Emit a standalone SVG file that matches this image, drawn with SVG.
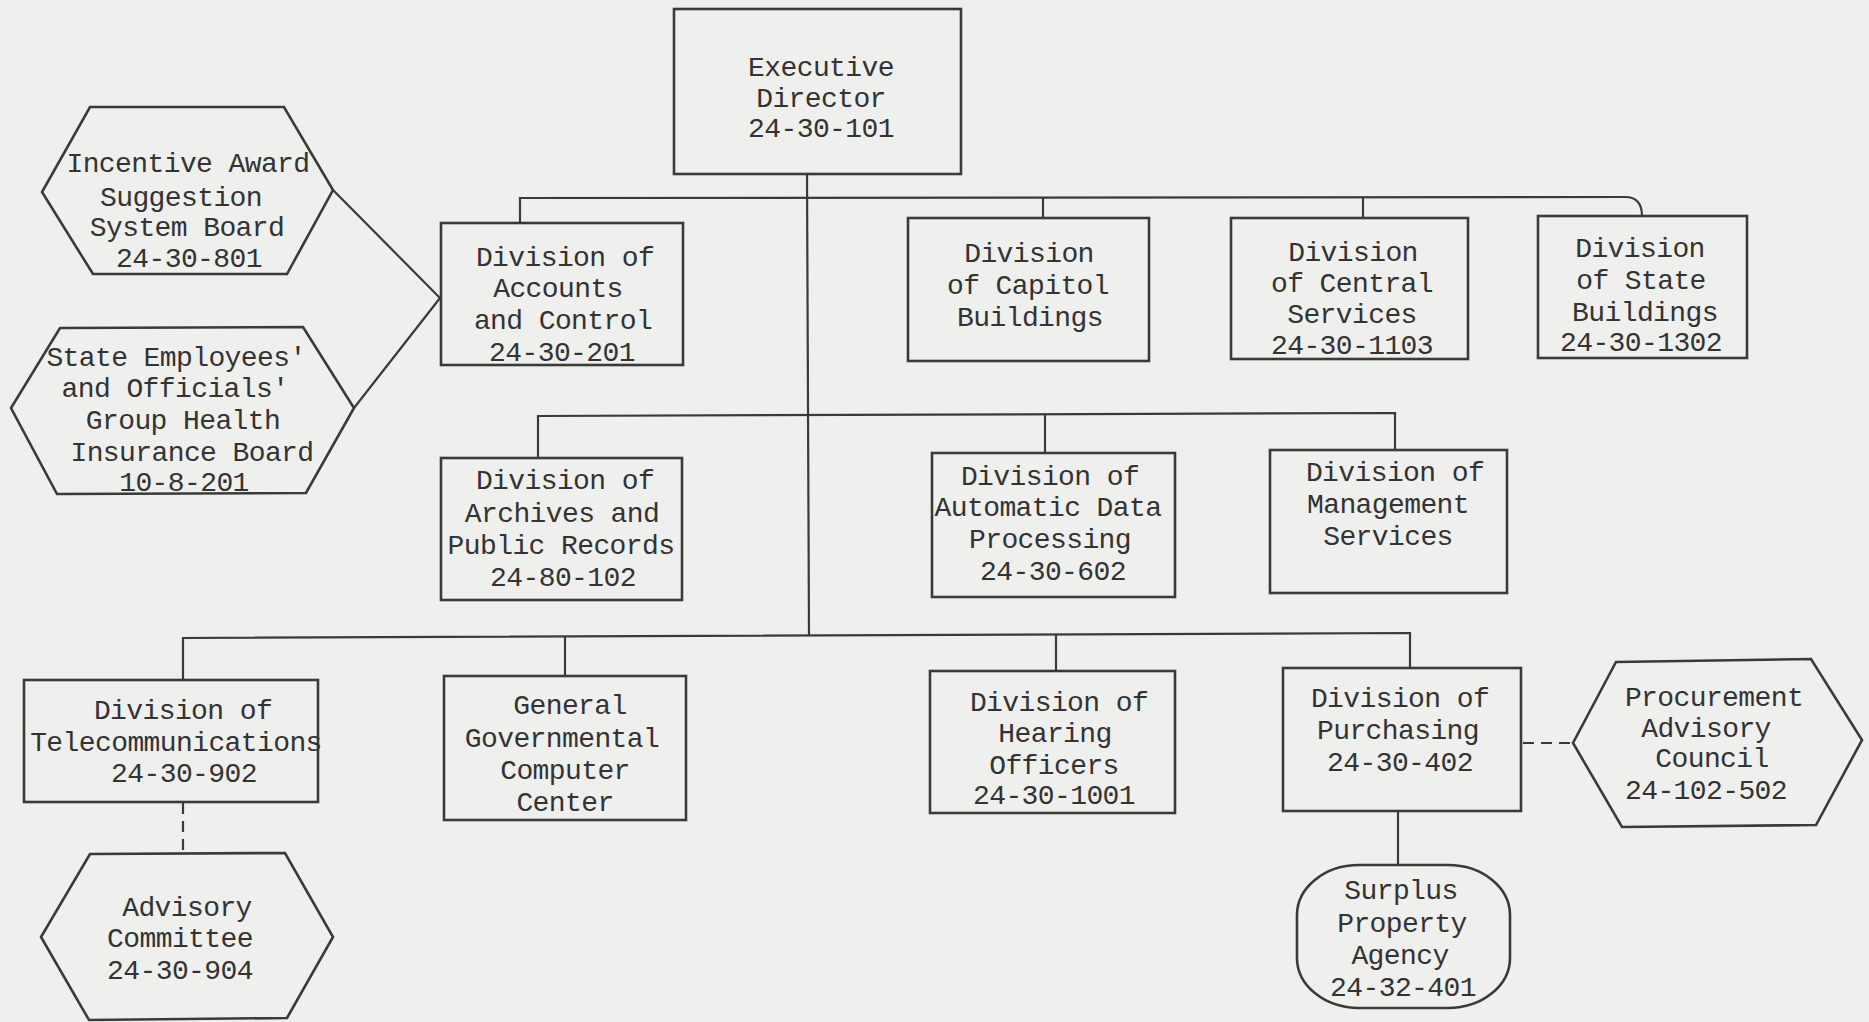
<svg xmlns="http://www.w3.org/2000/svg" width="1869" height="1022" viewBox="0 0 1869 1022">
<style>
.bg{fill:#efefed}
.box{fill:none;stroke:#3a3a3a;stroke-width:2.6}
.ln{fill:none;stroke:#3a3a3a;stroke-width:2.2}
.dash{fill:none;stroke:#3a3a3a;stroke-width:2.2;stroke-dasharray:11 7}
text{font-family:"Liberation Mono","DejaVu Sans Mono",monospace;font-size:28px;letter-spacing:-0.6px;fill:#333;text-anchor:middle}
</style>
<rect class="bg" x="0" y="0" width="1869" height="1022"/>
<g id="connectors">
<path class="ln" d="M807 174 L809 636"/>
<path class="ln" d="M520 223 L520 198 L1625 197 Q1642 197 1642 216"/>
<path class="ln" d="M1043 197 L1043 218"/>
<path class="ln" d="M1363 197 L1363 218"/>
<path class="ln" d="M538 458 L538 416 L1395 413 L1395 450"/>
<path class="ln" d="M1045 414 L1045 453"/>
<path class="ln" d="M183 680 L183 638 L1410 633 L1410 668"/>
<path class="ln" d="M565 637 L565 676"/>
<path class="ln" d="M1056 634 L1056 671"/>
<path class="ln" d="M1398 811 L1398 865"/>
<path class="ln" d="M333 190 L440 298 L354 408"/>
<path class="dash" d="M183 803 L183 854"/>
<path class="dash" d="M1523 743 L1573 743"/>
</g>
<g id="executive-director">
<rect class="box" x="674" y="9" width="287" height="165"/>
<text x="821" y="76">Executive</text>
<text x="821" y="107">Director</text>
<text x="821" y="137">24-30-101</text>
</g>
<g id="incentive-award">
<polygon class="box" points="90,107 284,107 333,190 287,274 93,274 42,192"/>
<text x="188" y="172">Incentive Award</text>
<text x="181" y="206">Suggestion</text>
<text x="187" y="236">System Board</text>
<text x="189" y="267">24-30-801</text>
</g>
<g id="state-employees">
<polygon class="box" points="60,328 303,327 354,408 306,493 57,494 11,408"/>
<text x="176" y="366">State Employees'</text>
<text x="175" y="397">and Officials'</text>
<text x="183" y="429">Group Health</text>
<text x="192" y="461">Insurance Board</text>
<text x="184" y="491">10-8-201</text>
</g>
<g id="accounts-control">
<rect class="box" x="441" y="223" width="242" height="142"/>
<text x="565" y="266">Division of</text>
<text x="558" y="297">Accounts</text>
<text x="563" y="329">and Control</text>
<text x="562" y="361">24-30-201</text>
</g>
<g id="capitol-buildings">
<rect class="box" x="908" y="218" width="241" height="143"/>
<text x="1029" y="262">Division</text>
<text x="1028" y="294">of Capitol</text>
<text x="1030" y="326">Buildings</text>
</g>
<g id="central-services">
<rect class="box" x="1231" y="218" width="237" height="141"/>
<text x="1353" y="261">Division</text>
<text x="1352" y="292">of Central</text>
<text x="1352" y="323">Services</text>
<text x="1352" y="354">24-30-1103</text>
</g>
<g id="state-buildings">
<rect class="box" x="1538" y="216" width="209" height="142"/>
<text x="1640" y="257">Division</text>
<text x="1641" y="289">of State</text>
<text x="1645" y="321">Buildings</text>
<text x="1641" y="351">24-30-1302</text>
</g>
<g id="archives">
<rect class="box" x="441" y="458" width="241" height="142"/>
<text x="565" y="489">Division of</text>
<text x="562" y="522">Archives and</text>
<text x="561" y="554">Public Records</text>
<text x="563" y="586">24-80-102</text>
</g>
<g id="automatic-data-processing">
<rect class="box" x="932" y="453" width="243" height="144"/>
<text x="1050" y="485">Division of</text>
<text x="1048" y="516">Automatic Data</text>
<text x="1050" y="548">Processing</text>
<text x="1053" y="580">24-30-602</text>
</g>
<g id="management-services">
<rect class="box" x="1270" y="450" width="237" height="143"/>
<text x="1395" y="481">Division of</text>
<text x="1388" y="513">Management</text>
<text x="1388" y="545">Services</text>
</g>
<g id="telecommunications">
<rect class="box" x="24" y="680" width="294" height="122"/>
<text x="183" y="719">Division of</text>
<text x="176" y="751">Telecommunications</text>
<text x="184" y="782">24-30-902</text>
</g>
<g id="general-computer-center">
<rect class="box" x="444" y="676" width="242" height="144"/>
<text x="570" y="714">General</text>
<text x="562" y="747">Governmental</text>
<text x="565" y="779">Computer</text>
<text x="565" y="811">Center</text>
</g>
<g id="hearing-officers">
<rect class="box" x="930" y="671" width="245" height="142"/>
<text x="1059" y="711">Division of</text>
<text x="1055" y="742">Hearing</text>
<text x="1054" y="774">Officers</text>
<text x="1054" y="804">24-30-1001</text>
</g>
<g id="purchasing">
<rect class="box" x="1283" y="668" width="238" height="143"/>
<text x="1400" y="707">Division of</text>
<text x="1398" y="739">Purchasing</text>
<text x="1400" y="771">24-30-402</text>
</g>
<g id="procurement-advisory-council">
<polygon class="box" points="1616,662 1811,659 1862,740 1816,825 1622,827 1573,743"/>
<text x="1714" y="706">Procurement</text>
<text x="1706" y="737">Advisory</text>
<text x="1712" y="767">Council</text>
<text x="1706" y="799">24-102-502</text>
</g>
<g id="surplus-property-agency">
<rect class="box" x="1297" y="865" width="213" height="143" rx="62" ry="50"/>
<text x="1401" y="899">Surplus</text>
<text x="1402" y="932">Property</text>
<text x="1400" y="964">Agency</text>
<text x="1403" y="996">24-32-401</text>
</g>
<g id="advisory-committee">
<polygon class="box" points="90,854 285,853 333,937 287,1018 89,1020 41,937"/>
<text x="187" y="916">Advisory</text>
<text x="180" y="947">Committee</text>
<text x="180" y="979">24-30-904</text>
</g>
</svg>
